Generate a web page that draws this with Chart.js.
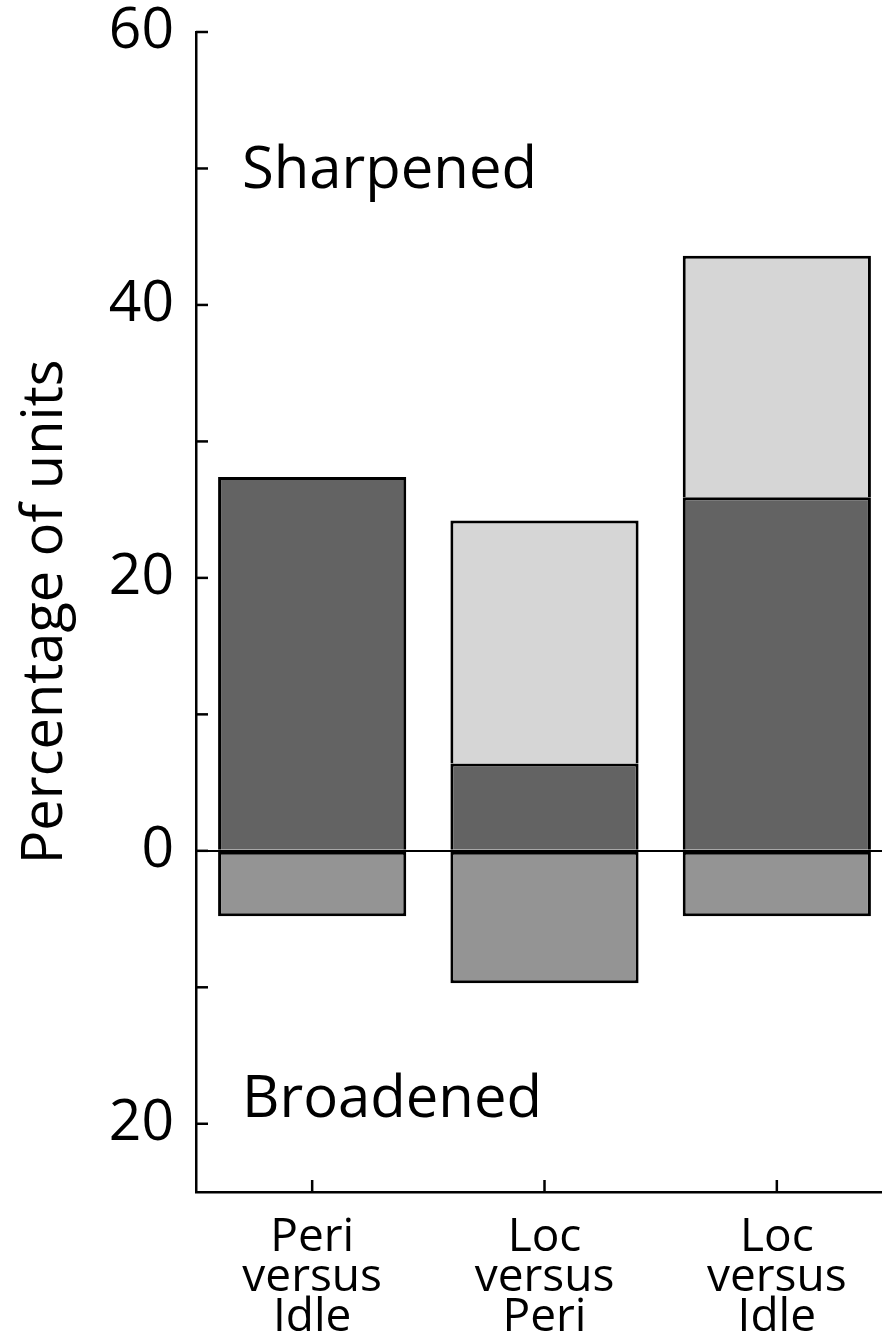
<!DOCTYPE html>
<html lang="en">
<head>
  <meta charset="UTF-8" />
  <title>Tuning changes</title>
  <script src="https://cdn.jsdelivr.net/npm/chart.js"></script>
  <style>
    body {
      margin: 0;
      background-color: white;
      overflow: hidden;
    }
    .chart-container {
      width: 895px;
      height: 1341px;
    }
  </style>
</head>
<body>
  <div class="chart-container">
    <canvas id="tuningChart"></canvas>
  </div>

  <script>
    const categories = [['Peri', 'versus', 'Idle'], ['Loc', 'versus', 'Peri'], ['Loc', 'versus', 'Idle']];
    const sharpenedBoth = [27.4, 6.4, 25.9];
    const sharpenedExtra = [0, 17.8, 17.7];
    const broadened = [-4.8, -9.7, -4.8];
    const regionLabels = ['Sharpened', 'Broadened'];
    const regionValues = [49.8, -18.3];

    const font = "'Open Sans', 'DejaVu Sans', sans-serif";

    // ticks point inward, plus the region captions
    const decorations = {
      id: 'decorations',
      afterDraw(chart) {
        const ctx = chart.ctx;
        const x = chart.scales.x;
        const y = chart.scales.y;
        ctx.save();
        ctx.strokeStyle = '#000';
        ctx.lineWidth = 2.5;
        y.ticks.forEach(t => {
          if (t.value % 10 !== 0) return;
          const py = y.getPixelForValue(t.value);
          ctx.beginPath();
          ctx.moveTo(y.right, py);
          ctx.lineTo(y.right + 12, py);
          ctx.stroke();
        });
        categories.forEach((c, i) => {
          const px = x.getPixelForValue(i);
          ctx.beginPath();
          ctx.moveTo(px, x.top);
          ctx.lineTo(px, x.top - 12);
          ctx.stroke();
        });
        ctx.fillStyle = '#000';
        ctx.font = '58px ' + font;
        ctx.textBaseline = 'middle';
        ctx.textAlign = 'left';
        regionLabels.forEach((txt, i) => {
          ctx.fillText(txt, y.right + 46, y.getPixelForValue(regionValues[i]));
        });
        ctx.restore();
      }
    };

    const stackedBorder = { top: 3, left: 3, right: 3, bottom: 0 };

    new Chart(document.getElementById('tuningChart'), {
      type: 'bar',
      data: {
        labels: categories,
        datasets: [
          {
            label: 'Sharpened',
            data: sharpenedBoth,
            backgroundColor: '#636363',
            borderColor: '#000',
            borderWidth: stackedBorder,
            borderSkipped: false
          },
          {
            label: 'Sharpened extra',
            data: sharpenedExtra,
            backgroundColor: '#d6d6d6',
            borderColor: '#000',
            borderWidth: stackedBorder,
            borderSkipped: false
          },
          {
            label: 'Broadened',
            data: broadened,
            backgroundColor: '#949494',
            borderColor: '#000',
            borderWidth: 3,
            borderSkipped: false
          }
        ]
      },
      options: {
        responsive: true,
        maintainAspectRatio: false,
        animation: false,
        layout: { padding: { top: 32, right: 2, left: 0, bottom: 0 } },
        datasets: {
          bar: { categoryPercentage: 1, barPercentage: 0.81 }
        },
        plugins: {
          legend: { display: false },
          tooltip: { enabled: false }
        },
        scales: {
          x: {
            stacked: true,
            grid: { display: false, drawTicks: false },
            border: { display: true, color: '#000', width: 2.5 },
            ticks: {
              color: '#000',
              font: { family: font, size: 46, lineHeight: 0.87 },
              padding: 26,
              maxRotation: 0
            },
            afterFit(scale) {
              scale.height = 149;
              scale.paddingLeft = 0;
              scale.paddingRight = 0;
            }
          },
          y: {
            stacked: true,
            min: -25,
            max: 60,
            grid: {
              drawTicks: false,
              color: ctx => ctx.tick && ctx.tick.value === 0 ? '#000' : 'rgba(0,0,0,0)',
              lineWidth: 2
            },
            border: { display: true, color: '#000', width: 2.5 },
            ticks: {
              stepSize: 10,
              color: '#000',
              padding: 22,
              font: { family: font, size: 57 },
              callback: v => (v % 20 === 0 ? String(Math.abs(v)) : '')
            },
            title: {
              display: true,
              text: 'Percentage of units',
              color: '#000',
              font: { family: font, size: 56 },
              padding: { top: 12, bottom: 0 }
            },
            afterFit(scale) {
              scale.width = 196;
              scale.paddingTop = 0;
              scale.paddingBottom = 0;
            }
          }
        }
      },
      plugins: [decorations]
    });
  </script>
</body>
</html>
